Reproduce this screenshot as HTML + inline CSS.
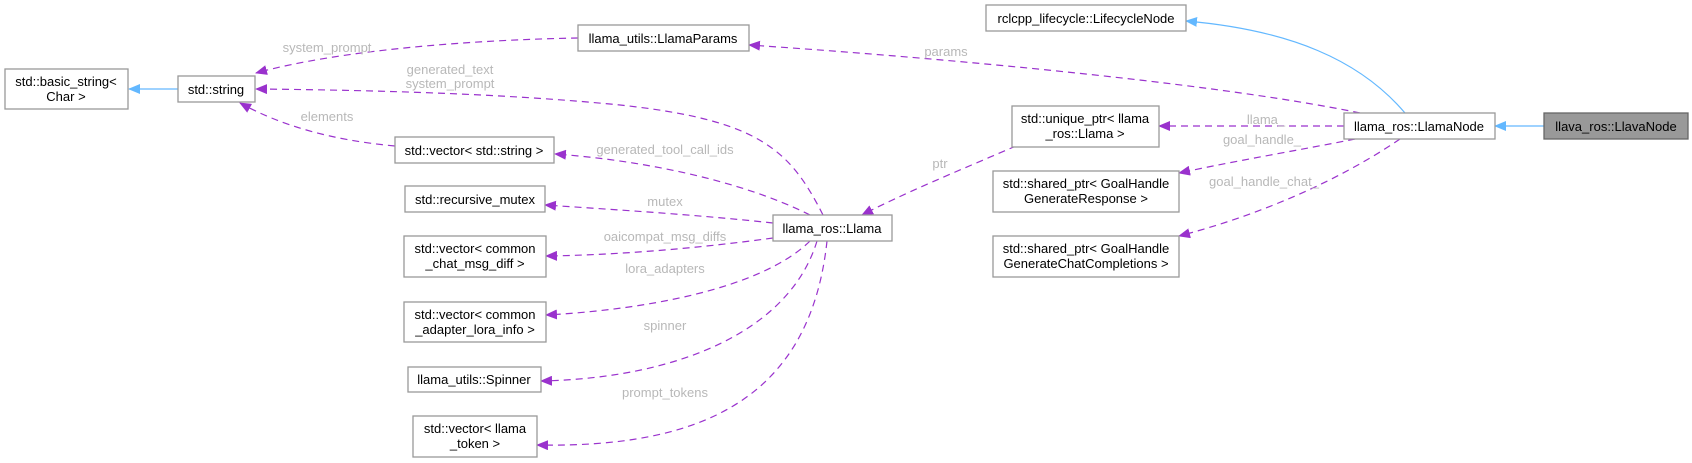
<!DOCTYPE html>
<html><head><meta charset="utf-8"><style>
html,body{margin:0;padding:0;background:#fff;}
svg{display:block;}
text{font-family:"Liberation Sans",sans-serif;font-size:13px;}
.n{fill:#fff;stroke:#999;stroke-width:1.3;}
.t{fill:#000;text-anchor:middle;}
.l{fill:#b8b8b8;text-anchor:middle;}
.e{fill:none;stroke:#9a32cd;stroke-width:1.2;stroke-dasharray:7,5;}
.b{fill:none;stroke:#63b8ff;stroke-width:1.2;}
</style></head><body>
<svg width="1692" height="463" viewBox="0 0 1692 463" xmlns="http://www.w3.org/2000/svg">
<defs>
<marker id="p" markerWidth="12" markerHeight="10" refX="11" refY="5" orient="auto" markerUnits="userSpaceOnUse"><path d="M0,0 L12,5 L0,10 z" fill="#9a32cd"/></marker>
<marker id="bl" markerWidth="12" markerHeight="10" refX="11" refY="5" orient="auto" markerUnits="userSpaceOnUse"><path d="M0,0 L12,5 L0,10 z" fill="#63b8ff"/></marker>
</defs>

<!-- edges -->
<path class="b" d="M178,89 L129,89" marker-end="url(#bl)"/>
<path class="b" d="M1544,126 L1495,126" marker-end="url(#bl)"/>
<path class="b" d="M1405,113 C1360,60 1290,30 1186,21" marker-end="url(#bl)"/>

<path class="e" d="M578,38 C470,40 340,50 256,73" marker-end="url(#p)"/>
<path class="e" d="M823,215 C790,150 760,120 620,105 C500,93 360,90 256,89" marker-end="url(#p)"/>
<path class="e" d="M395,146 C330,140 280,125 240,103" marker-end="url(#p)"/>
<path class="e" d="M810,215 C740,180 640,160 555,154" marker-end="url(#p)"/>
<path class="e" d="M773,223 C700,215 620,210 545,205" marker-end="url(#p)"/>
<path class="e" d="M773,238 C700,248 620,255 546,256" marker-end="url(#p)"/>
<path class="e" d="M810,241 C760,290 640,310 546,315" marker-end="url(#p)"/>
<path class="e" d="M817,241 C790,330 680,378 541,381" marker-end="url(#p)"/>
<path class="e" d="M827,241 C810,400 700,448 537,445" marker-end="url(#p)"/>
<path class="e" d="M1016,146 C960,170 900,195 862,215" marker-end="url(#p)"/>
<path class="e" d="M1360,113 C1200,80 900,55 749,45" marker-end="url(#p)"/>
<path class="e" d="M1344,126 L1159,126" marker-end="url(#p)"/>
<path class="e" d="M1355,139 C1300,150 1240,160 1179,173" marker-end="url(#p)"/>
<path class="e" d="M1400,139 C1340,180 1260,215 1179,236" marker-end="url(#p)"/>

<!-- edge labels -->
<text class="l" x="327" y="52">system_prompt</text>
<text class="l" x="450" y="74">generated_text</text>
<text class="l" x="450" y="88">system_prompt</text>
<text class="l" x="327" y="121">elements</text>
<text class="l" x="665" y="154">generated_tool_call_ids</text>
<text class="l" x="665" y="206">mutex</text>
<text class="l" x="665" y="241">oaicompat_msg_diffs</text>
<text class="l" x="665" y="273">lora_adapters</text>
<text class="l" x="665" y="330">spinner</text>
<text class="l" x="665" y="397">prompt_tokens</text>
<text class="l" x="940" y="168">ptr</text>
<text class="l" x="946" y="56">params</text>
<text class="l" x="1266" y="124">llama_</text>
<text class="l" x="1262" y="144">goal_handle_</text>
<text class="l" x="1264" y="186">goal_handle_chat_</text>

<!-- nodes -->
<rect class="n" x="5" y="69" width="123" height="40"/>
<text class="t" x="66" y="86">std::basic_string&lt;</text>
<text class="t" x="66" y="101">Char &gt;</text>

<rect class="n" x="178" y="76" width="77" height="26"/>
<text class="t" x="216" y="94">std::string</text>

<rect class="n" x="578" y="25" width="171" height="26"/>
<text class="t" x="663" y="43">llama_utils::LlamaParams</text>

<rect class="n" x="986" y="5" width="200" height="26"/>
<text class="t" x="1086" y="23">rclcpp_lifecycle::LifecycleNode</text>

<rect class="n" x="395" y="137" width="159" height="26"/>
<text class="t" x="474" y="155">std::vector&lt; std::string &gt;</text>

<rect class="n" x="405" y="186" width="140" height="26"/>
<text class="t" x="475" y="204">std::recursive_mutex</text>

<rect class="n" x="404" y="236" width="142" height="41"/>
<text class="t" x="475" y="253">std::vector&lt; common</text>
<text class="t" x="475" y="268">_chat_msg_diff &gt;</text>

<rect class="n" x="404" y="302" width="142" height="40"/>
<text class="t" x="475" y="319">std::vector&lt; common</text>
<text class="t" x="475" y="334">_adapter_lora_info &gt;</text>

<rect class="n" x="408" y="367" width="133" height="25"/>
<text class="t" x="474" y="384">llama_utils::Spinner</text>

<rect class="n" x="413" y="416" width="124" height="41"/>
<text class="t" x="475" y="433">std::vector&lt; llama</text>
<text class="t" x="475" y="448">_token &gt;</text>

<rect class="n" x="773" y="215" width="119" height="26"/>
<text class="t" x="832" y="233">llama_ros::Llama</text>

<rect class="n" x="1012" y="106" width="147" height="41"/>
<text class="t" x="1085" y="123">std::unique_ptr&lt; llama</text>
<text class="t" x="1085" y="138">_ros::Llama &gt;</text>

<rect class="n" x="993" y="171" width="186" height="41"/>
<text class="t" x="1086" y="188">std::shared_ptr&lt; GoalHandle</text>
<text class="t" x="1086" y="203">GenerateResponse &gt;</text>

<rect class="n" x="993" y="236" width="186" height="41"/>
<text class="t" x="1086" y="253">std::shared_ptr&lt; GoalHandle</text>
<text class="t" x="1086" y="268">GenerateChatCompletions &gt;</text>

<rect class="n" x="1344" y="113" width="151" height="26"/>
<text class="t" x="1419" y="131">llama_ros::LlamaNode</text>

<rect x="1544" y="113" width="144" height="26" fill="#999" stroke="#666" stroke-width="1.3"/>
<text class="t" x="1616" y="131">llava_ros::LlavaNode</text>
</svg>
</body></html>
